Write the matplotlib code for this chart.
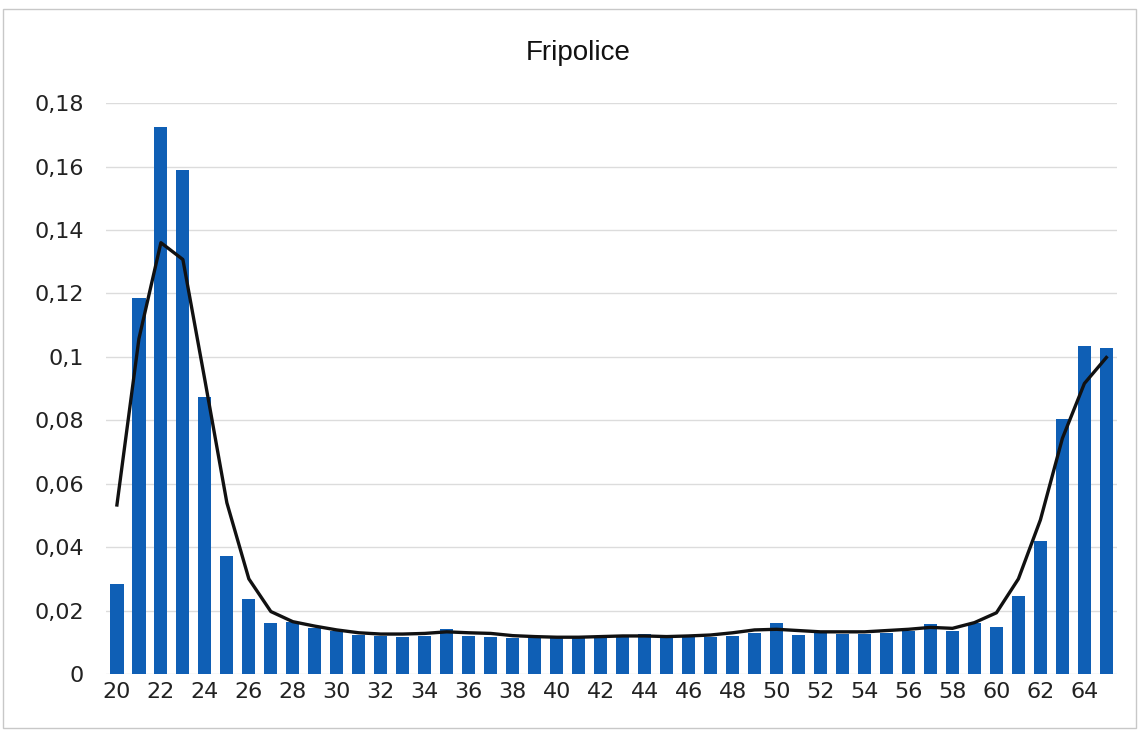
import numpy as np
import matplotlib.pyplot as plt
from matplotlib.ticker import FuncFormatter, MultipleLocator
from matplotlib.patches import Rectangle

# age categories 20..65
ages = list(range(20, 66))

# bar values (share per age)
bar_values = [
    0.0284, 0.1185, 0.1725, 0.1590, 0.0873, 0.0372, 0.0237, 0.0162, 0.0165, 0.0144,
    0.0136, 0.0123, 0.0120, 0.0118, 0.0121, 0.0142, 0.0120, 0.0118, 0.0115, 0.0112,
    0.0112, 0.0112, 0.0112, 0.0116, 0.0125, 0.0116, 0.0123, 0.0118, 0.0120, 0.0130,
    0.0162, 0.0123, 0.0128, 0.0126, 0.0126, 0.0130, 0.0137, 0.0157, 0.0137, 0.0162,
    0.0147, 0.0246, 0.0420, 0.0803, 0.1034, 0.1027,
]

# smoothed curve
line_values = [
    0.0533, 0.1057, 0.1360, 0.1307, 0.0927, 0.0540, 0.0300, 0.0197, 0.0165, 0.0151,
    0.0139, 0.0130, 0.0126, 0.0126, 0.0128, 0.0133, 0.0130, 0.0128, 0.0121, 0.0118,
    0.0116, 0.0116, 0.0118, 0.0120, 0.0120, 0.0118, 0.0120, 0.0123, 0.0130, 0.0139,
    0.0141, 0.0137, 0.0133, 0.0133, 0.0133, 0.0137, 0.0141, 0.0147, 0.0144, 0.0162,
    0.0193, 0.0300, 0.0486, 0.0743, 0.0916, 0.0998,
]

title = "Fripolice"

fig = plt.figure(figsize=(11.39, 7.3), dpi=100)
ax = fig.add_axes([0.093, 0.0767, 0.888, 0.782])

x = np.arange(len(ages))
ax.bar(x, bar_values, width=0.6, color='#0f5fb5', zorder=2)
ax.plot(x, line_values, color='#111111', linewidth=2.4, zorder=3)

ax.set_xlim(-0.5, len(ages) - 0.5)
ax.set_ylim(0, 0.18)
ax.yaxis.set_major_locator(MultipleLocator(0.02))
ax.yaxis.set_major_formatter(FuncFormatter(lambda v, p: f"{round(v, 2):g}".replace('.', ',')))
ax.set_xticks(x[::2])
ax.set_xticklabels([str(a) for a in ages[::2]])

ax.grid(axis='y', color='#dcdcdc', linewidth=1.0, zorder=0)
for s in ax.spines.values():
    s.set_visible(False)
ax.tick_params(axis='y', length=0, pad=16, labelsize=16, colors='#222222')
ax.tick_params(axis='x', length=0, pad=6, labelsize=16, colors='#222222')

fig.text(0.508, 0.927, title, ha='center', va='center', fontsize=20,
         family='Liberation Sans', color='#111111')

# thin frame of the chart area
fig.patches.append(Rectangle((0.003, 0.003), 0.994, 0.985, transform=fig.transFigure,
                             fill=False, edgecolor='#c8c8c8', linewidth=1.0))

plt.savefig('out.png', dpi=100)
